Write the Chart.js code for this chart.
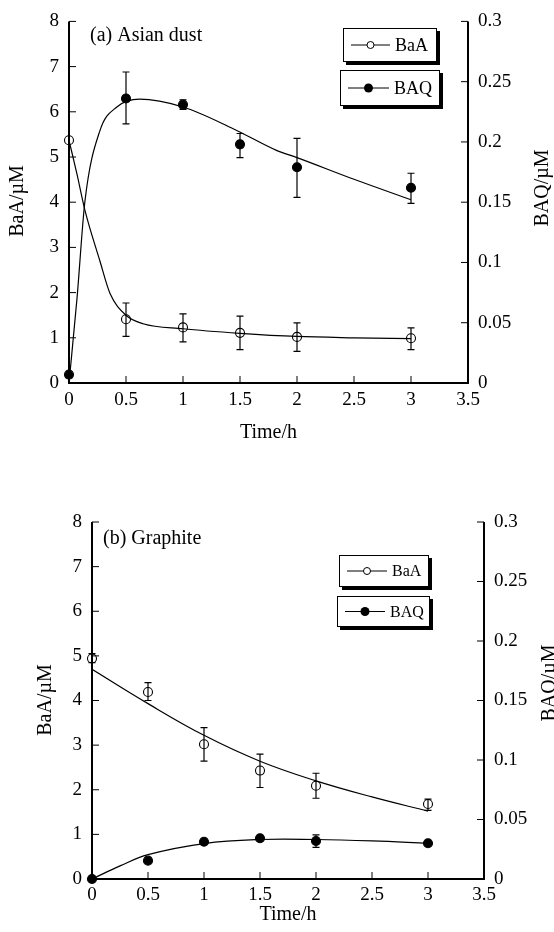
<!DOCTYPE html>
<html>
<head>
<meta charset="utf-8">
<script src="https://cdn.jsdelivr.net/npm/chart.js@4.4.1/dist/chart.umd.min.js"></script>
<style>
  body { margin: 0; background: #fff; width: 554px; height: 932px; overflow: hidden; position: relative; }
  .panel { position: absolute; left: 0; width: 554px; }
</style>
</head>
<body>
<div class="panel" style="top:0;height:470px"><canvas id="chartA"></canvas></div>
<div class="panel" style="top:470px;height:462px"><canvas id="chartB"></canvas></div>
<script>
// sampling times (h) and axis ticks
const times = [0, 0.5, 1, 1.5, 2, 3];
const timeTicks = [0, 0.5, 1, 1.5, 2, 2.5, 3, 3.5];
const baaTicks = [0, 1, 2, 3, 4, 5, 6, 7, 8];
const baqTicks = [0, 0.05, 0.1, 0.15, 0.2, 0.25, 0.3];

// (a) Asian dust
const dustBaA = [5.37, 1.41, 1.23, 1.11, 1.02, 0.99];
const dustBaALow = [null, 1.03, 0.91, 0.74, 0.70, 0.74];
const dustBaAHigh = [null, 1.77, 1.53, 1.48, 1.33, 1.22];
const dustBAQ = [0.007, 0.236, 0.231, 0.198, 0.179, 0.162];
const dustBAQLow = [null, 0.215, 0.227, 0.187, 0.154, 0.149];
const dustBAQHigh = [null, 0.258, 0.235, 0.207, 0.203, 0.174];
const dustBaAFitT = [0, 0.07, 0.14, 0.27, 0.36, 0.5, 0.65, 1, 1.5, 2, 2.5, 3];
const dustBaAFit = [5.37, 4.62, 3.82, 2.71, 1.98, 1.5, 1.31, 1.2, 1.1, 1.03, 1.0, 0.98];
const dustBAQFitT = [0, 0.07, 0.14, 0.27, 0.42, 0.62, 1, 1.44, 1.82, 2, 2.5, 3];
const dustBAQFit = [0, 0.070, 0.151, 0.209, 0.229, 0.2355, 0.229, 0.211, 0.193, 0.187, 0.169, 0.152];

// (b) Graphite
const graphBaA = [4.94, 4.19, 3.02, 2.43, 2.09, 1.68];
const graphBaALow = [4.85, 4.0, 2.64, 2.05, 1.81, 1.54];
const graphBaAHigh = [5.05, 4.40, 3.39, 2.80, 2.37, 1.79];
const graphBAQ = [0, 0.0154, 0.0313, 0.0342, 0.0319, 0.030];
const graphBAQLow = [null, null, null, null, 0.0266, null];
const graphBAQHigh = [null, null, null, null, 0.037, null];
const graphBaAFitT = [0, 0.5, 1, 1.5, 2, 2.5, 3];
const graphBaAFit = [4.70, 3.93, 3.22, 2.64, 2.2, 1.84, 1.52];
const graphBAQFitT = [0, 0.25, 0.5, 1, 1.5, 2, 2.5, 3];
const graphBAQFit = [0, 0.011, 0.0205, 0.0298, 0.0332, 0.0332, 0.032, 0.030];

const serif = "'Liberation Serif', 'Times New Roman', serif";
const pts = (xs, ys) => xs.map((x, i) => ({ x, y: ys[i] }));

function pointSet(label, ys, axis, filled, low, high) {
  return {
    type: 'scatter', label, data: pts(times, ys), yAxisID: axis,
    pointRadius: 4.5, pointHoverRadius: 4.5, pointStyle: 'circle',
    pointBackgroundColor: filled ? '#000' : 'rgba(0,0,0,0)',
    pointBorderColor: '#000', pointBorderWidth: 1.1,
    showLine: false, errLow: low, errHigh: high, clip: false
  };
}
function fitSet(xs, ys, axis, mode) {
  return {
    type: 'line', data: pts(xs, ys), yAxisID: axis,
    borderColor: '#000', borderWidth: 1.2, pointRadius: 0,
    tension: 0.4, cubicInterpolationMode: mode, fill: false
  };
}

// axes, inward ticks, error bars, titles and the boxed legends
const paperPlugin = {
  id: 'paper',
  afterDatasetsDraw(chart) {
    const ctx = chart.ctx;
    ctx.save();
    ctx.strokeStyle = '#000';
    ctx.lineWidth = 1.2;
    chart.data.datasets.forEach(ds => {
      if (!ds.errLow) return;
      const ys = chart.scales[ds.yAxisID];
      ds.data.forEach((p, i) => {
        if (ds.errLow[i] == null) return;
        const px = chart.scales.x.getPixelForValue(p.x);
        const a = ys.getPixelForValue(ds.errLow[i]);
        const b = ys.getPixelForValue(ds.errHigh[i]);
        ctx.beginPath();
        ctx.moveTo(px, a); ctx.lineTo(px, b);
        ctx.moveTo(px - 3.5, a); ctx.lineTo(px + 3.5, a);
        ctx.moveTo(px - 3.5, b); ctx.lineTo(px + 3.5, b);
        ctx.stroke();
      });
    });
    ctx.restore();
  },
  afterDraw(chart, args, o) {
    const ctx = chart.ctx;
    const { x, y, y2 } = chart.scales;
    const area = chart.chartArea;
    const tl = 7;
    ctx.save();
    ctx.strokeStyle = '#000';
    ctx.fillStyle = '#000';
    // axis lines
    ctx.lineWidth = 2;
    ctx.beginPath();
    ctx.moveTo(area.left, area.top); ctx.lineTo(area.left, area.bottom);
    ctx.lineTo(area.right, area.bottom); ctx.lineTo(area.right, area.top);
    ctx.stroke();
    // inward ticks
    ctx.lineWidth = 1;
    ctx.beginPath();
    x.ticks.forEach(t => {
      const px = x.getPixelForValue(t.value);
      ctx.moveTo(px, area.bottom); ctx.lineTo(px, area.bottom - tl);
    });
    y.ticks.forEach(t => {
      const py = y.getPixelForValue(t.value);
      ctx.moveTo(area.left, py); ctx.lineTo(area.left + tl, py);
    });
    y2.ticks.forEach(t => {
      const py = y2.getPixelForValue(t.value);
      ctx.moveTo(area.right, py); ctx.lineTo(area.right - tl, py);
    });
    ctx.stroke();

    // titles
    ctx.font = o.titleFont + 'px ' + serif;
    ctx.textAlign = 'center';
    ctx.textBaseline = 'middle';
    ctx.fillText('Time/h', (area.left + area.right) / 2, o.xTitleY);
    [[o.leftTitle, 'BaA/\u00b5M'], [o.rightTitle, 'BAQ/\u00b5M']].forEach(([pos, txt]) => {
      ctx.save();
      ctx.translate(pos[0], pos[1]);
      ctx.rotate(-Math.PI / 2);
      ctx.fillText(txt, 0, 0);
      ctx.restore();
    });
    ctx.textAlign = 'left';
    ctx.textBaseline = 'alphabetic';
    ctx.font = o.panelFont + 'px ' + serif;
    ctx.fillText(o.panel[0], o.panel[1], o.panel[2]);

    // legend boxes
    ctx.font = o.legendFont + 'px ' + serif;
    o.legend.forEach(it => {
      const ds = chart.data.datasets[it.ds];
      ctx.fillStyle = '#000';
      ctx.fillRect(it.x + 3, it.y + 3, it.w, it.h);
      ctx.fillStyle = '#fff';
      ctx.fillRect(it.x, it.y, it.w, it.h);
      ctx.lineWidth = 1;
      ctx.strokeRect(it.x + 0.5, it.y + 0.5, it.w - 1, it.h - 1);
      const my = it.y + it.h / 2;
      ctx.beginPath();
      ctx.moveTo(it.x + it.l1, my); ctx.lineTo(it.x + it.l2, my);
      ctx.stroke();
      const mx = it.x + (it.l1 + it.l2) / 2;
      ctx.beginPath();
      ctx.arc(mx, my, it.r, 0, Math.PI * 2);
      if (ds.pointBackgroundColor === '#000') { ctx.fillStyle = '#000'; ctx.fill(); }
      else { ctx.fillStyle = '#fff'; ctx.fill(); ctx.stroke(); }
      ctx.fillStyle = '#000';
      ctx.fillText(ds.label, it.x + it.tx, it.y + it.by);
    });
    ctx.restore();
  }
};

function makeScales(sz) {
  const tickFont = { family: serif, size: 19 };
  const base = { type: 'linear', grid: { display: false, drawTicks: false }, border: { display: false } };
  return {
    x: Object.assign({}, base, {
      position: 'bottom', min: 0, max: 3.5,
      afterBuildTicks: s => { s.ticks = timeTicks.map(v => ({ value: v })); },
      afterFit: s => { s.height = sz.xh; },
      ticks: { font: tickFont, color: '#000', padding: sz.xpad, maxRotation: 0, autoSkip: false, callback: v => String(v) }
    }),
    y: Object.assign({}, base, {
      position: 'left', min: 0, max: 8,
      afterBuildTicks: s => { s.ticks = baaTicks.map(v => ({ value: v })); },
      afterFit: s => { s.width = sz.yl; },
      ticks: { font: tickFont, color: '#000', padding: 10, autoSkip: false, callback: v => String(v) }
    }),
    y2: Object.assign({}, base, {
      position: 'right', min: 0, max: 0.3,
      afterBuildTicks: s => { s.ticks = baqTicks.map(v => ({ value: v })); },
      afterFit: s => { s.width = sz.yr; },
      ticks: { font: tickFont, color: '#000', padding: 10, autoSkip: false, callback: v => String(+v.toFixed(2)) }
    })
  };
}

function makeChart(id, d, sz, paper) {
  return new Chart(document.getElementById(id), {
    data: {
      datasets: [
        pointSet('BaA', d.baa, 'y', false, d.baaLow, d.baaHigh),
        pointSet('BAQ', d.baq, 'y2', true, d.baqLow, d.baqHigh),
        fitSet(d.baaFitT, d.baaFit, 'y', sz.curve),
        fitSet(d.baqFitT, d.baqFit, 'y2', sz.curve)
      ]
    },
    options: {
      responsive: true, maintainAspectRatio: false, animation: false,
      layout: { padding: { top: sz.top, left: 0, right: 0, bottom: 0 } },
      plugins: { legend: { display: false }, tooltip: { enabled: false }, paper },
      scales: makeScales(sz)
    },
    plugins: [paperPlugin]
  });
}

makeChart('chartA', {
  baa: dustBaA, baaLow: dustBaALow, baaHigh: dustBaAHigh,
  baq: dustBAQ, baqLow: dustBAQLow, baqHigh: dustBAQHigh,
  baaFitT: dustBaAFitT, baaFit: dustBaAFit, baqFitT: dustBAQFitT, baqFit: dustBAQFit
}, { top: 21, xh: 87, xpad: 6, yl: 69, yr: 86, curve: 'monotone' }, {
  titleFont: 20, xTitleY: 433, leftTitle: [18, 201], rightTitle: [543, 188],
  panelFont: 20, panel: ['(a) Asian dust', 90, 41],
  legendFont: 18,
  legend: [
    { ds: 0, x: 343, y: 28, w: 94, h: 34, l1: 8, l2: 47, r: 3.5, tx: 52, by: 23 },
    { ds: 1, x: 340, y: 70, w: 100, h: 36, l1: 8, l2: 49, r: 4.5, tx: 54, by: 24 }
  ]
});

makeChart('chartB', {
  baa: graphBaA, baaLow: graphBaALow, baaHigh: graphBaAHigh,
  baq: graphBAQ, baqLow: graphBAQLow, baqHigh: graphBAQHigh,
  baaFitT: graphBaAFitT, baaFit: graphBaAFit, baqFitT: graphBAQFitT, baqFit: graphBAQFit
}, { top: 52, xh: 53, xpad: 5, yl: 92, yr: 70, curve: 'default' }, {
  titleFont: 20, xTitleY: 445, leftTitle: [46, 230], rightTitle: [550, 213],
  panelFont: 20, panel: ['(b) Graphite', 103, 74],
  legendFont: 16,
  legend: [
    { ds: 0, x: 339, y: 85, w: 90, h: 32, l1: 8, l2: 48, r: 3.5, tx: 53, by: 21 },
    { ds: 1, x: 337, y: 126, w: 93, h: 31, l1: 8, l2: 48, r: 4.5, tx: 53, by: 21 }
  ]
});
</script>
</body>
</html>
